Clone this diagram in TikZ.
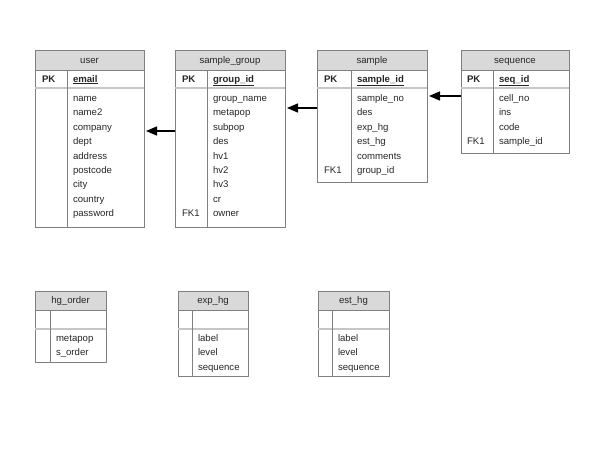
\documentclass[tikz,border=0pt]{standalone}
\usepackage{fontspec}
\setmainfont{Liberation Sans}
\usetikzlibrary{positioning,arrows.meta}
\definecolor{tblline}{HTML}{808080}
\definecolor{tblhead}{HTML}{D9D9D9}

\begin{document}
\begin{tikzpicture}[x=1pt, y=-1pt,
  node distance=0pt,
  every node/.style={font=\fontsize{9.6}{14.4}\selectfont, text=black!85, outer sep=0pt},
  thead/.style={draw=tblline, fill=tblhead, minimum height=20pt, anchor=north west,
                inner sep=0pt, text height=7.5pt, text depth=1pt},
  tkey/.style={draw=tblline, minimum height=18pt, inner sep=0pt},
  tbody/.style={draw=tblline, inner sep=0pt},
  keytxt/.style={anchor=base west, inner sep=0pt, font=\fontsize{9.6}{14.4}\selectfont\bfseries},
  fktxt/.style={anchor=base west, inner sep=0pt},
  flist/.style={anchor=north west, align=left, inner sep=0pt},
  colsep/.style={draw=tblline},
  dbl/.style={draw=gray!45, line width=1.6pt},
  fk/.style={-{Triangle[length=11pt,width=9pt]}, line width=1.3pt}]
\useasboundingbox (0,0) rectangle (600,450);

% user
\node[thead, minimum width=109pt] (user) at (35,50) {user};
\node[tkey, minimum width=109pt, below=of user] (userk) {};
\node[tbody, minimum width=109pt, minimum height=139pt, below=of userk] (userb) {};
\draw[dbl] (userk.south west) -- (userk.south east);
\draw[colsep] ([xshift=32pt]userk.north west) -- ([xshift=32pt]userb.south west);
\node[keytxt] (userpk) at ([xshift=7pt,yshift=-3pt]userk.west) {PK};
\node[keytxt] (userid) at ([xshift=38pt,yshift=-3pt]userk.west) {\underline{email}};
\node[flist] (userf) at ([xshift=38pt,yshift=-3.5pt]userb.north west)
  {\strut name\\ name2\\ company\\ dept\\ address\\ postcode\\ city\\ country\\ password};

% sample_group
\node[thead, minimum width=110pt] (sgroup) at (175,50) {sample\_group};
\node[tkey, minimum width=110pt, below=of sgroup] (sgroupk) {};
\node[tbody, minimum width=110pt, minimum height=139pt, below=of sgroupk] (sgroupb) {};
\draw[dbl] (sgroupk.south west) -- (sgroupk.south east);
\draw[colsep] ([xshift=32pt]sgroupk.north west) -- ([xshift=32pt]sgroupb.south west);
\node[keytxt] (sgrouppk) at ([xshift=7pt,yshift=-3pt]sgroupk.west) {PK};
\node[keytxt] (sgroupid) at ([xshift=38pt,yshift=-3pt]sgroupk.west) {\underline{group\_id}};
\node[flist] (sgroupf) at ([xshift=38pt,yshift=-3.5pt]sgroupb.north west)
  {\strut group\_name\\ metapop\\ subpop\\ des\\ hv1\\ hv2\\ hv3\\ cr\\ owner};
\node[fktxt] (sgroupfk) at ([xshift=7pt,yshift=-128.7pt]sgroupb.north west) {FK1};

% sample
\node[thead, minimum width=110pt] (sample) at (317,50) {sample};
\node[tkey, minimum width=110pt, below=of sample] (samplek) {};
\node[tbody, minimum width=110pt, minimum height=94pt, below=of samplek] (sampleb) {};
\draw[dbl] (samplek.south west) -- (samplek.south east);
\draw[colsep] ([xshift=34pt]samplek.north west) -- ([xshift=34pt]sampleb.south west);
\node[keytxt] (samplepk) at ([xshift=7pt,yshift=-3pt]samplek.west) {PK};
\node[keytxt] (sampleid) at ([xshift=40pt,yshift=-3pt]samplek.west) {\underline{sample\_id}};
\node[flist] (samplef) at ([xshift=40pt,yshift=-3.5pt]sampleb.north west)
  {\strut sample\_no\\ des\\ exp\_hg\\ est\_hg\\ comments\\ group\_id};
\node[fktxt] (samplefk) at ([xshift=7pt,yshift=-85.5pt]sampleb.north west) {FK1};

% sequence
\node[thead, minimum width=108pt] (seq) at (461,50) {sequence};
\node[tkey, minimum width=108pt, below=of seq] (seqk) {};
\node[tbody, minimum width=108pt, minimum height=65pt, below=of seqk] (seqb) {};
\draw[dbl] (seqk.south west) -- (seqk.south east);
\draw[colsep] ([xshift=32pt]seqk.north west) -- ([xshift=32pt]seqb.south west);
\node[keytxt] (seqpk) at ([xshift=6pt,yshift=-3pt]seqk.west) {PK};
\node[keytxt] (seqid) at ([xshift=38pt,yshift=-3pt]seqk.west) {\underline{seq\_id}};
\node[flist] (seqf) at ([xshift=38pt,yshift=-3.5pt]seqb.north west)
  {\strut cell\_no\\ ins\\ code\\ sample\_id};
\node[fktxt] (seqfk) at ([xshift=6pt,yshift=-56.7pt]seqb.north west) {FK1};

% hg_order
\node[thead, minimum width=71pt, minimum height=19pt] (hgorder) at (35,291) {hg\_order};
\node[tkey, minimum width=71pt, minimum height=19pt, below=of hgorder] (hgorderk) {};
\node[tbody, minimum width=71pt, minimum height=33pt, below=of hgorderk] (hgorderb) {};
\draw[dbl] (hgorderk.south west) -- (hgorderk.south east);
\draw[colsep] ([xshift=15pt]hgorderk.north west) -- ([xshift=15pt]hgorderb.south west);
\node[flist] (hgorderf) at ([xshift=21pt,yshift=-2.4pt]hgorderb.north west)
  {\strut metapop\\ s\_order};

% exp_hg
\node[thead, minimum width=70pt, minimum height=19pt] (exphg) at (178,291) {exp\_hg};
\node[tkey, minimum width=70pt, minimum height=19pt, below=of exphg] (exphgk) {};
\node[tbody, minimum width=70pt, minimum height=47pt, below=of exphgk] (exphgb) {};
\draw[dbl] (exphgk.south west) -- (exphgk.south east);
\draw[colsep] ([xshift=14pt]exphgk.north west) -- ([xshift=14pt]exphgb.south west);
\node[flist] (exphgf) at ([xshift=20pt,yshift=-2.4pt]exphgb.north west)
  {\strut label\\ level\\ sequence};

% est_hg
\node[thead, minimum width=71pt, minimum height=19pt] (esthg) at (318,291) {est\_hg};
\node[tkey, minimum width=71pt, minimum height=19pt, below=of esthg] (esthgk) {};
\node[tbody, minimum width=71pt, minimum height=47pt, below=of esthgk] (esthgb) {};
\draw[dbl] (esthgk.south west) -- (esthgk.south east);
\draw[colsep] ([xshift=14pt]esthgk.north west) -- ([xshift=14pt]esthgb.south west);
\node[flist] (esthgf) at ([xshift=20pt,yshift=-2.4pt]esthgb.north west)
  {\strut label\\ level\\ sequence};

% foreign keys
\draw[fk] ([yshift=-43pt]sgroupb.north west) -- ([xshift=2pt,yshift=-43pt]userb.north east);
\draw[fk] ([yshift=-20pt]sampleb.north west) -- ([xshift=2pt,yshift=-20pt]sgroupb.north east);
\draw[fk] ([yshift=-8pt]seqb.north west) -- ([xshift=2pt,yshift=-8pt]sampleb.north east);
\end{tikzpicture}
\end{document}
